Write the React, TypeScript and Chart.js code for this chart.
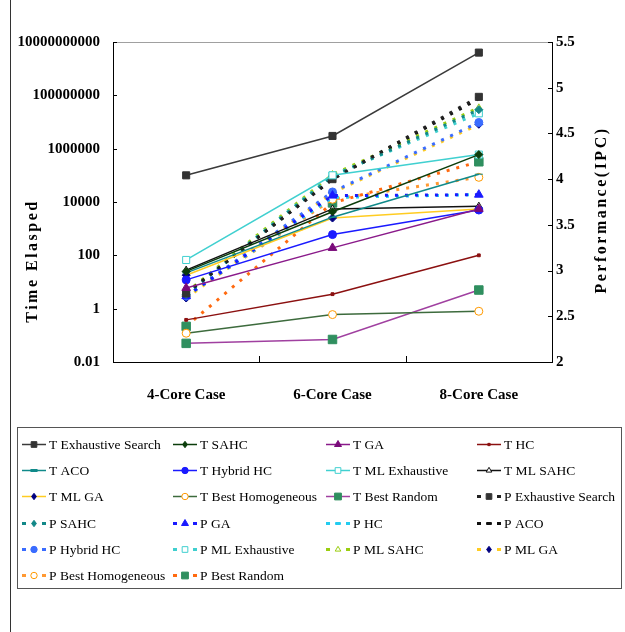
import React, { useEffect, useRef } from 'react';
import { Chart, registerables } from 'chart.js';

Chart.register(...registerables);

// ---------- data ----------
const categories = ['4-Core Case', '6-Core Case', '8-Core Case'];
const leftTickValues = [0.01, 1, 100, 10000, 1000000, 100000000, 10000000000];
const rightTickValues = [2, 2.5, 3, 3.5, 4, 4.5, 5, 5.5];

// Time elapsed (left, log axis)
const tExhaustiveSearch = [100000, 3000000, 4000000000];
const tSAHC = [25, 4300, 600000];
const tGA = [6, 190, 5500];
const tHC = [0.38, 3.5, 100];
const tACO = [22, 2700, 110000];
const tHybridHC = [12, 600, 5000];
const tMLExhaustive = [67, 100000, 600000];
const tMLSAHC = [28, 5500, 7000];
const tMLGA = [18, 2500, 5500];
const tBestHomogeneous = [0.12, 0.6, 0.8];
const tBestRandom = [0.05, 0.07, 5];

// Performance IPC (right axis)
const pExhaustiveSearch = [2.75, 4.0, 4.9];
const pSAHC = [2.74, 4.03, 4.76];
const pGA = [2.72, 3.82, 3.83];
const pHC = [2.72, 3.8, 3.83];
const pACO = [2.75, 4.0, 4.88];
const pHybridHC = [2.72, 3.86, 4.62];
const pMLExhaustive = [2.74, 4.04, 4.72];
const pMLSAHC = [2.76, 4.05, 4.78];
const pMLGA = [2.7, 3.85, 4.6];
const pBestHomogeneous = [2.72, 3.78, 4.02];
const pBestRandom = [2.39, 3.74, 4.19];

const seriesLabels = [
  'T Exhaustive Search', 'T SAHC', 'T GA', 'T HC',
  'T ACO', 'T Hybrid HC', 'T ML Exhaustive', 'T ML SAHC',
  'T ML GA', 'T Best Homogeneous', 'T Best Random', 'P Exhaustive Search',
  'P SAHC', 'P GA', 'P HC', 'P ACO',
  'P Hybrid HC', 'P ML Exhaustive', 'P ML SAHC', 'P ML GA',
  'P Best Homogeneous', 'P Best Random',
];
const seriesValues = [
  tExhaustiveSearch, tSAHC, tGA, tHC,
  tACO, tHybridHC, tMLExhaustive, tMLSAHC,
  tMLGA, tBestHomogeneous, tBestRandom, pExhaustiveSearch,
  pSAHC, pGA, pHC, pACO,
  pHybridHC, pMLExhaustive, pMLSAHC, pMLGA,
  pBestHomogeneous, pBestRandom,
];

// ---------- styles ----------
type Sty = { axis: string; color: string; marker: string; mColor: string; open: boolean; r: number; dashed: boolean };
const styles: Sty[] = [
  { axis: 'y', color: '#3a3a3a', marker: 'rect', mColor: '#333333', open: false, r: 5, dashed: false },
  { axis: 'y', color: '#0b3d0b', marker: 'rectRot', mColor: '#0b3d0b', open: false, r: 4, dashed: false },
  { axis: 'y', color: '#8a1a8a', marker: 'triangle', mColor: '#7a0a7a', open: false, r: 5, dashed: false },
  { axis: 'y', color: '#8b1010', marker: 'rect', mColor: '#8b1010', open: false, r: 2, dashed: false },
  { axis: 'y', color: '#108a8a', marker: 'line', mColor: '#108a8a', open: false, r: 4, dashed: false },
  { axis: 'y', color: '#1a1aff', marker: 'circle', mColor: '#1a1aff', open: false, r: 4, dashed: false },
  { axis: 'y', color: '#40d0d0', marker: 'rect', mColor: '#40d0d0', open: true, r: 5, dashed: false },
  { axis: 'y', color: '#111111', marker: 'triangle', mColor: '#111111', open: true, r: 4, dashed: false },
  { axis: 'y', color: '#ffcc22', marker: 'rectRot', mColor: '#000080', open: false, r: 4, dashed: false },
  { axis: 'y', color: '#3d6b3d', marker: 'circle', mColor: '#ff9900', open: true, r: 4, dashed: false },
  { axis: 'y', color: '#a040a0', marker: 'rect', mColor: '#2f8f5f', open: false, r: 6, dashed: false },
  { axis: 'y1', color: '#222222', marker: 'rect', mColor: '#333333', open: false, r: 5, dashed: true },
  { axis: 'y1', color: '#128888', marker: 'rectRot', mColor: '#128888', open: false, r: 4, dashed: true },
  { axis: 'y1', color: '#1a1aff', marker: 'triangle', mColor: '#1a1aff', open: false, r: 5, dashed: true },
  { axis: 'y1', color: '#22ccf0', marker: 'line', mColor: '#22ccf0', open: false, r: 3, dashed: true },
  { axis: 'y1', color: '#111111', marker: 'line', mColor: '#111111', open: false, r: 3, dashed: true },
  { axis: 'y1', color: '#3a6cff', marker: 'circle', mColor: '#3a6cff', open: false, r: 4, dashed: true },
  { axis: 'y1', color: '#3fcfcf', marker: 'rect', mColor: '#3fcfcf', open: true, r: 5, dashed: true },
  { axis: 'y1', color: '#9acd10', marker: 'triangle', mColor: '#9acd10', open: true, r: 4, dashed: true },
  { axis: 'y1', color: '#ffcc22', marker: 'rectRot', mColor: '#000080', open: false, r: 4, dashed: true },
  { axis: 'y1', color: '#ff9933', marker: 'circle', mColor: '#ff9900', open: true, r: 4, dashed: true },
  { axis: 'y1', color: '#ff6a10', marker: 'rect', mColor: '#2f8f5f', open: false, r: 6, dashed: true },
];

const SERIF = '"Liberation Serif", "Times New Roman", serif';

function drawMarker(ctx: CanvasRenderingContext2D, s: Sty, x: number, y: number, scale: number) {
  const r = s.r * scale;
  ctx.save();
  ctx.setLineDash([]);
  ctx.lineWidth = 1;
  ctx.strokeStyle = s.mColor;
  ctx.fillStyle = s.open ? '#ffffff' : s.mColor;
  ctx.beginPath();
  if (s.marker === 'rect') {
    const h = Math.SQRT1_2 * r;
    ctx.rect(x - h, y - h, 2 * h, 2 * h);
  } else if (s.marker === 'rectRot') {
    ctx.moveTo(x, y - r); ctx.lineTo(x + r * 0.75, y); ctx.lineTo(x, y + r); ctx.lineTo(x - r * 0.75, y); ctx.closePath();
  } else if (s.marker === 'triangle') {
    ctx.moveTo(x, y - r); ctx.lineTo(x + r * 0.87, y + r * 0.5); ctx.lineTo(x - r * 0.87, y + r * 0.5); ctx.closePath();
  } else if (s.marker === 'circle') {
    ctx.arc(x, y, r, 0, Math.PI * 2);
  } else if (s.marker === 'line') {
    ctx.rect(x - r, y - 1, 2 * r, 2);
  }
  ctx.fill();
  ctx.stroke();
  ctx.restore();
}

const decorPlugin = {
  id: 'decor',
  afterDraw(chart: any) {
    const ctx: CanvasRenderingContext2D = chart.ctx;
    const a = chart.chartArea;
    ctx.save();
    // outer frame left edge
    ctx.strokeStyle = '#333';
    ctx.lineWidth = 1;
    ctx.beginPath(); ctx.moveTo(10.5, 0); ctx.lineTo(10.5, 632); ctx.stroke();
    // top border of plot (gray)
    ctx.strokeStyle = '#a0a0a0';
    ctx.beginPath(); ctx.moveTo(a.left, a.top + 0.5); ctx.lineTo(a.right, a.top + 0.5); ctx.stroke();
    // inward tick marks
    ctx.strokeStyle = '#000';
    const yL = chart.scales.y;
    leftTickValues.forEach((v) => {
      const py = Math.round(yL.getPixelForValue(v)) + 0.5;
      ctx.beginPath(); ctx.moveTo(a.left, py); ctx.lineTo(a.left + 4, py); ctx.stroke();
    });
    const yR = chart.scales.y1;
    rightTickValues.forEach((v) => {
      const py = Math.round(yR.getPixelForValue(v)) + 0.5;
      ctx.beginPath(); ctx.moveTo(a.right - 4, py); ctx.lineTo(a.right, py); ctx.stroke();
    });
    const xs = chart.scales.x;
    for (let i = 1; i < categories.length; i++) {
      const bx = Math.round((xs.getPixelForValue(i - 1) + xs.getPixelForValue(i)) / 2) + 0.5;
      ctx.beginPath(); ctx.moveTo(bx, a.bottom); ctx.lineTo(bx, a.bottom - 6); ctx.stroke();
    }
    // axis titles
    ctx.fillStyle = '#000';
    ctx.font = `bold 16px ${SERIF}`;
    ctx.textAlign = 'center';
    ctx.textBaseline = 'middle';
    (ctx as any).letterSpacing = '2.5px';
    ctx.save(); ctx.translate(33, 261); ctx.rotate(-Math.PI / 2); ctx.fillText('Time Elasped', 0, 0); ctx.restore();
    ctx.save(); ctx.translate(602, 210); ctx.rotate(-Math.PI / 2); ctx.fillText('Performance(IPC)', 0, 0); ctx.restore();
    (ctx as any).letterSpacing = '0px';

    // legend box
    ctx.strokeStyle = '#555';
    ctx.lineWidth = 1;
    ctx.strokeRect(17.5, 427.5, 604, 161);
    const colX = [22, 173, 326, 477];
    ctx.font = `13.5px ${SERIF}`;
    ctx.textAlign = 'left';
    ctx.textBaseline = 'middle';
    seriesLabels.forEach((lab, i) => {
      const s = styles[i];
      const col = i % 4;
      const row = Math.floor(i / 4);
      const x0 = colX[col];
      const y = Math.round(444 + row * 26.2) + 0.5;
      ctx.save();
      if (s.dashed) {
        ctx.fillStyle = s.color;
        ctx.fillRect(x0, y - 1.5, 4, 3);
        ctx.fillRect(x0 + 20, y - 1.5, 4, 3);
      } else {
        ctx.strokeStyle = s.color;
        ctx.lineWidth = 1.5;
        ctx.beginPath(); ctx.moveTo(x0, y); ctx.lineTo(x0 + 24, y); ctx.stroke();
      }
      ctx.restore();
      drawMarker(ctx, s, x0 + 12, y, 0.8);
      ctx.fillStyle = '#000';
      ctx.fillText(lab, x0 + 27, y + 1);
    });
    ctx.restore();
  },
};

export default function App() {
  const ref = useRef<HTMLCanvasElement | null>(null);
  useEffect(() => {
    if (!ref.current) return;
    const datasets = seriesLabels.map((label, i) => {
      const s = styles[i];
      return {
        label,
        data: seriesValues[i],
        yAxisID: s.axis,
        borderColor: s.color,
        backgroundColor: s.color,
        borderWidth: s.dashed ? 3 : 1.5,
        borderDash: s.dashed ? [3, 7] : [],
        pointStyle: s.marker,
        pointRadius: s.r,
        pointBackgroundColor: s.open ? '#ffffff' : s.mColor,
        pointBorderColor: s.mColor,
        pointBorderWidth: 1,
        tension: 0,
        fill: false,
      };
    });
    const tickFont = { family: SERIF, size: 15, weight: 'bold' as const };
    const chart = new Chart(ref.current, {
      type: 'line',
      data: { labels: categories, datasets },
      options: {
        animation: false,
        responsive: false,
        layout: { padding: { top: 42, bottom: 230, left: 0, right: 0 } },
        plugins: { legend: { display: false }, tooltip: { enabled: false } },
        scales: {
          x: {
            type: 'category',
            offset: true,
            grid: { display: false, drawTicks: false },
            border: { display: true, color: '#000', width: 1 },
            ticks: { font: tickFont, color: '#000', padding: 24, maxRotation: 0 },
            afterFit: (s: any) => { s.height = 40; },
          },
          y: {
            type: 'logarithmic',
            position: 'left',
            min: 0.01,
            max: 10000000000,
            grid: { display: false, drawTicks: false },
            border: { display: true, color: '#000', width: 1 },
            afterBuildTicks: (s: any) => { s.ticks = leftTickValues.map((v) => ({ value: v })); },
            ticks: { font: tickFont, color: '#000', padding: 13, callback: (v: any) => String(v), autoSkip: false },
            afterFit: (s: any) => { s.width = 113; },
          },
          y1: {
            type: 'linear',
            position: 'right',
            min: 2,
            max: 5.5,
            grid: { display: false, drawTicks: false },
            border: { display: true, color: '#000', width: 1 },
            afterBuildTicks: (s: any) => { s.ticks = rightTickValues.map((v) => ({ value: v })); },
            ticks: { font: tickFont, color: '#000', padding: 4, callback: (v: any) => String(v), autoSkip: false },
            afterFit: (s: any) => { s.width = 73; },
          },
        },
      } as any,
      plugins: [decorPlugin],
    });
    return () => chart.destroy();
  }, []);
  return (
    <div style={{ position: 'absolute', left: 0, top: 0, width: 625, height: 632, background: '#fff' }}>
      <canvas ref={ref} width={625} height={632} style={{ display: 'block' }} />
    </div>
  );
}
